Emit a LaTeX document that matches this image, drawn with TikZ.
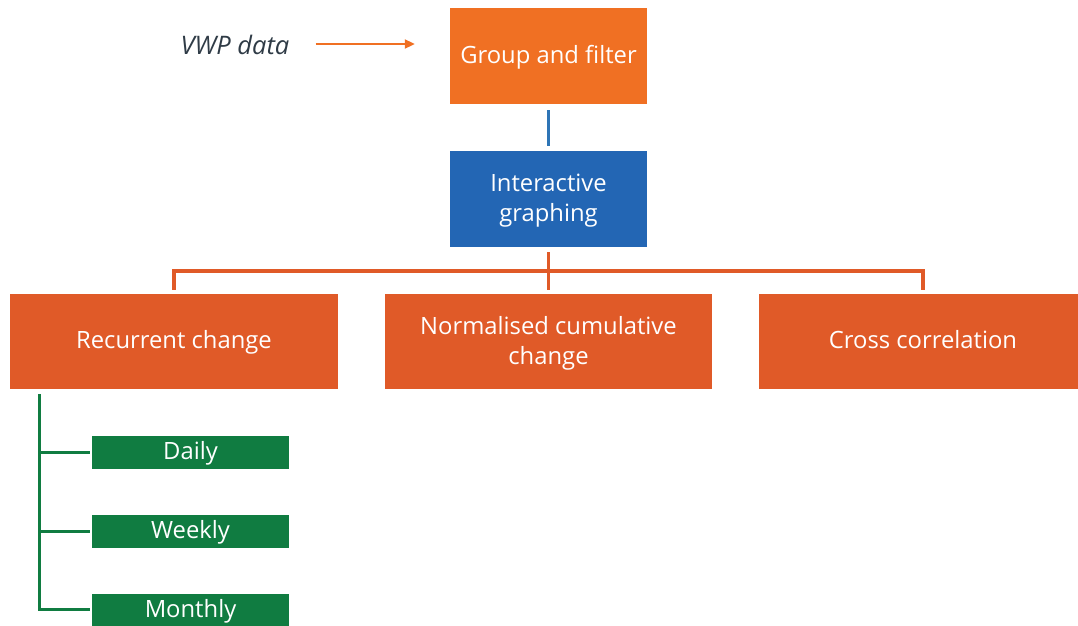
\documentclass[tikz,border=0pt]{standalone}
\usepackage{fontspec}
\setmainfont{Open Sans}
\usetikzlibrary{arrows.meta}
\definecolor{topor}{HTML}{F07023}
\definecolor{botor}{HTML}{E05A28}
\definecolor{ibl}{HTML}{2366B4}
\definecolor{lbl}{HTML}{2E75B6}
\definecolor{grn}{HTML}{107C41}
\definecolor{txtd}{HTML}{2F3B46}
\tikzset{
  box/.style={draw=none, text=white, align=center, inner sep=0pt, font=\fontsize{23.8}{30}\selectfont},
  oneline/.style={text height=18pt, text depth=4pt},
  gbox/.style={box, oneline, fill=grn, minimum width=197pt, minimum height=33pt},
  oline/.style={draw=botor, line width=3.2pt},
  gline/.style={draw=grn, line width=3pt},
}
\begin{document}
\begin{tikzpicture}[x=1pt,y=-1pt]
\useasboundingbox (0,0) rectangle (1078,625);
\node[font=\fontsize{25.5}{30}\selectfont\itshape, text=txtd, inner sep=0pt] (vwp) at (235,45) {VWP data};
\node[box, oneline, fill=topor, minimum width=197pt, minimum height=96pt] (gf) at (548.5,56) {Group and filter};
\node[box, fill=ibl, minimum width=197pt, minimum height=96pt] (ig) at (548.5,199) {};
\node[box, anchor=center] (igt) at (548.5,201) {Interactive\\graphing};
\node[box, oneline, fill=botor, minimum width=328pt, minimum height=95pt] (rc) at (174,341.5) {Recurrent change};
\node[box, fill=botor, minimum width=327pt, minimum height=95pt] (nc) at (548.5,341.5) {};
\node[box] (nct) at (548.5,343) {Normalised cumulative\\change};
\node[box, oneline, fill=botor, minimum width=328pt, minimum height=95pt] (cc) at (923,341.5) {Cross correlation};
\node[gbox] (daily) at (190.5,452) {Daily};
\node[gbox] (weekly) at (190.5,531.5) {Weekly};
\node[gbox] (monthly) at (190.5,610.5) {Monthly};
% arrow
\draw[draw=topor, line width=2pt, -{Triangle[length=10pt,width=9pt]}, shorten <=26pt, shorten >=35pt]
  ([yshift=1pt]vwp.east) -- ([yshift=1pt]vwp.east -| gf.west);
% blue link
\draw[draw=lbl, line width=3.5pt, shorten <=6pt, shorten >=5pt] (gf.south) -- (ig.north);
% orange tree
\coordinate (bar) at (548.5,271);
\draw[oline] ([yshift=-5pt]ig.south) -- ([yshift=4pt]nc.north);
\draw[oline] ([yshift=4pt]rc.north) -- (rc.north |- bar) -- (cc.north |- bar) -- ([yshift=4pt]cc.north);
% green tree
\coordinate (trunk) at ([xshift=30pt,yshift=-5pt]rc.south west);
\draw[gline] (trunk) |- ([xshift=-2pt,yshift=1.5pt]monthly.west);
\draw[gline] (daily.west -| trunk) -- ([xshift=-2pt]daily.west);
\draw[gline] (weekly.west -| trunk) -- ([xshift=-2pt]weekly.west);
\end{tikzpicture}
\end{document}
